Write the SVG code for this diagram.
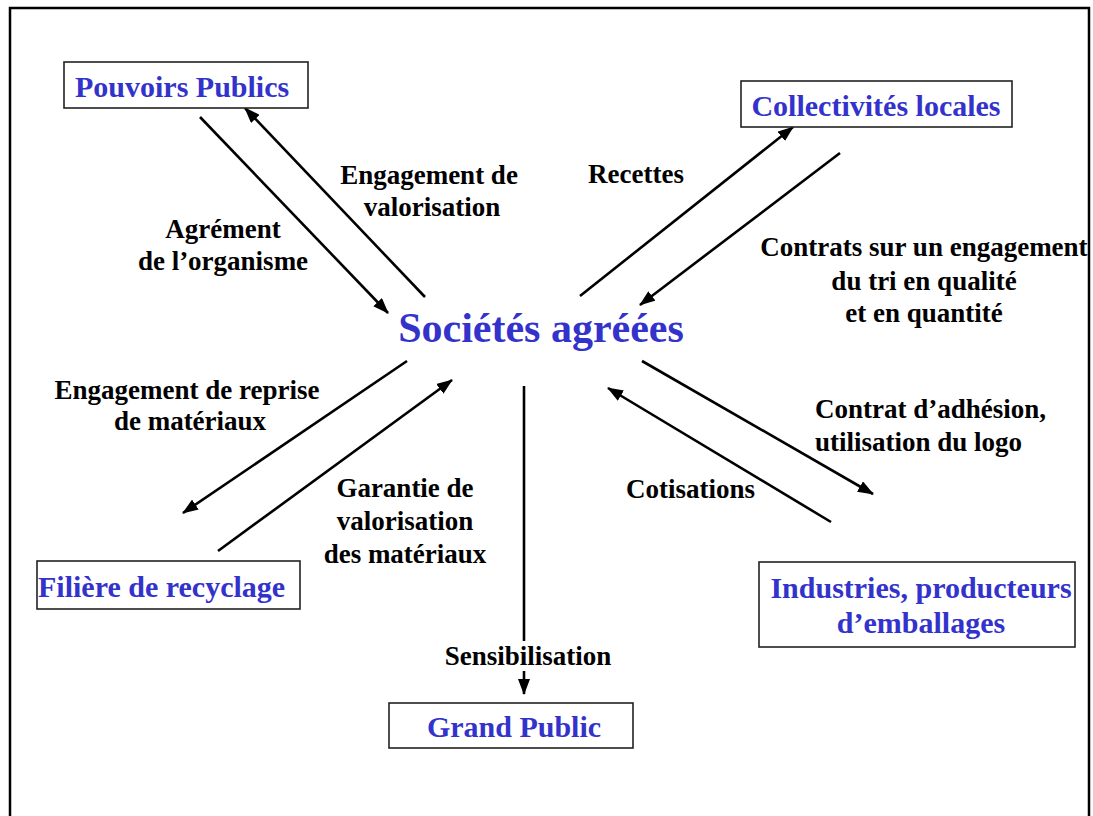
<svg xmlns="http://www.w3.org/2000/svg" width="1093" height="816" viewBox="0 0 1093 816">
<style>
.node rect{fill:#fff;stroke:#222;stroke-width:1.6}
.nt{font-family:"Liberation Serif","Times New Roman",serif;font-weight:bold;font-size:30px;fill:#3333cc}
.lb{font-family:"Liberation Serif","Times New Roman",serif;font-weight:bold;font-size:27px;fill:#000}
.c{text-anchor:middle}
#connectors path{fill:none;stroke:#000;stroke-width:2.6;marker-end:url(#ah)}
</style>
<defs>
<marker id="ah" viewBox="0 0 16 12" refX="15" refY="6" markerWidth="16" markerHeight="12" markerUnits="userSpaceOnUse" orient="auto">
<path d="M0,0 L16,6 L0,12 z" fill="#000"/>
</marker>
</defs>
<rect width="1093" height="816" fill="#fff"/>
<path d="M10,820 V8 H1089 V820" fill="none" stroke="#000" stroke-width="2.5"/>

<g id="connectors">
<path d="M200,117 L388,313"/>
<path d="M425,297 L245,108"/>
<path d="M580,296 L793,127"/>
<path d="M840,153 L640,305"/>
<path d="M407,361 L183,513"/>
<path d="M218,551 L452,380"/>
<path d="M524,386 V641" style="marker-end:none"/>
<path d="M524,671 V694"/>
<path d="M642,361 L873,494"/>
<path d="M831,522 L608,388"/>
</g>

<g id="labels">
<text class="lb c" x="429" y="184">Engagement de</text>
<text class="lb c" x="432" y="216">valorisation</text>
<text class="lb c" x="223" y="238">Agrément</text>
<text class="lb c" x="223" y="270">de l’organisme</text>
<text class="lb c" x="636" y="183">Recettes</text>
<text class="lb c" x="924" y="256">Contrats sur un engagement</text>
<text class="lb c" x="924" y="290">du tri en qualité</text>
<text class="lb c" x="924" y="322">et en quantité</text>
<text class="lb c" x="187" y="399">Engagement de reprise</text>
<text class="lb c" x="190" y="430">de matériaux</text>
<text class="lb c" x="405" y="497">Garantie de</text>
<text class="lb c" x="405" y="530">valorisation</text>
<text class="lb c" x="405" y="563">des matériaux</text>
<text class="lb" x="815" y="418">Contrat d’adhésion,</text>
<text class="lb" x="815" y="451">utilisation du logo</text>
<text class="lb" x="626" y="498">Cotisations</text>
<text class="lb c" x="528" y="665">Sensibilisation</text>
</g>

<g id="societes">
<text class="nt c" x="541" y="342" style="font-size:42px">Sociétés agréées</text>
</g>
<g id="pouvoirs" class="node">
<rect x="64" y="62" width="244" height="46"/>
<text class="nt" x="75" y="97">Pouvoirs Publics</text>
</g>
<g id="collectivites" class="node">
<rect x="741" y="81" width="271" height="46"/>
<text class="nt c" x="876" y="116">Collectivités locales</text>
</g>
<g id="filiere" class="node">
<rect x="37" y="561" width="263" height="48"/>
<text class="nt" x="38" y="597">Filière de recyclage</text>
</g>
<g id="industries" class="node">
<rect x="759" y="562" width="316" height="85"/>
<text class="nt c" x="921" y="598">Industries, producteurs</text>
<text class="nt c" x="921" y="633">d’emballages</text>
</g>
<g id="grandpublic" class="node">
<rect x="389" y="703" width="244" height="45"/>
<text class="nt c" x="514" y="737">Grand Public</text>
</g>
</svg>
